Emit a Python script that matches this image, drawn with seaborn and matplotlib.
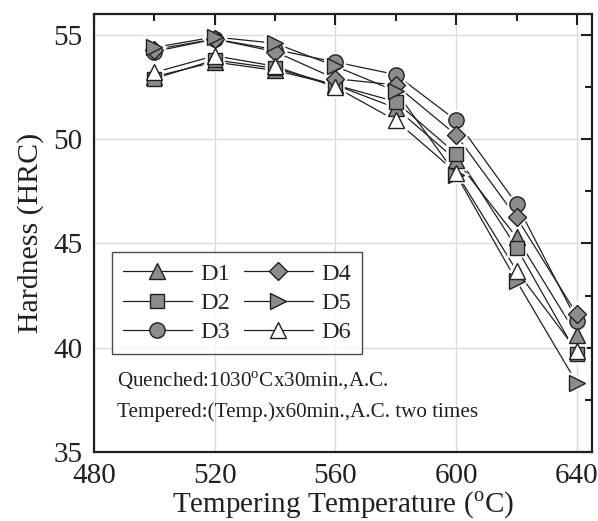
import matplotlib
matplotlib.use("Agg")
import matplotlib.pyplot as plt
from matplotlib.ticker import MultipleLocator
from matplotlib.lines import Line2D
import seaborn as sns
import pandas as pd

temps = [500, 520, 540, 560, 580, 600, 620, 640]
D1 = [53.0, 53.7, 53.3, 52.6, 51.5, 49.0, 45.3, 40.6]
D2 = [52.9, 53.8, 53.4, 52.6, 51.8, 49.3, 44.8, 39.7]
D3 = [54.2, 54.8, 54.3, 53.7, 53.1, 50.9, 46.9, 41.3]
D4 = [54.3, 54.8, 54.2, 52.9, 52.6, 50.2, 46.25, 41.6]
D5 = [54.4, 54.9, 54.6, 53.5, 52.3, 48.3, 43.2, 38.3]
D6 = [53.2, 54.0, 53.5, 52.5, 50.9, 48.4, 43.7, 39.85]
series_names = ["D1", "D2", "D3", "D4", "D5", "D6"]
series_values = [D1, D2, D3, D4, D5, D6]
markers = ["^", "s", "o", "D", ">", "^"]
fills = ["#8c8c8c", "#8c8c8c", "#8c8c8c", "#8c8c8c", "#8c8c8c", "white"]
sizes = [11.5, 10, 11, 9.5, 11.5, 11.5]

sns.set_style("white")
plt.rcParams["font.family"] = ["Liberation Serif", "DejaVu Serif"]
plt.rcParams["mathtext.fontset"] = "custom"
plt.rcParams["mathtext.rm"] = "Liberation Serif"

fig = plt.figure(figsize=(5.98, 5.21), dpi=100)
ax = fig.add_axes([0.157, 0.1324, 0.833, 0.8406])

edge = "#231f20"
frames = [pd.DataFrame({"T": temps, "H": vals}) for vals in series_values]

# layer 1: connecting lines
for df in frames:
    sns.lineplot(data=df, x="T", y="H", ax=ax, color=edge, lw=0.9, zorder=2)
# layer 2: white halos that open a small gap in the lines around each marker
for df, m, ms in zip(frames, markers, sizes):
    sns.lineplot(data=df, x="T", y="H", ax=ax, linestyle="", marker=m,
                 markersize=ms, markerfacecolor="white", markeredgecolor="white",
                 markeredgewidth=4.0, zorder=3)
# layer 3: the markers
for df, m, fc, ms in zip(frames, markers, fills, sizes):
    sns.lineplot(data=df, x="T", y="H", ax=ax, linestyle="", marker=m,
                 markersize=ms, markerfacecolor=fc, markeredgecolor=edge,
                 markeredgewidth=1.0, zorder=4)

ax.set_xlim(480, 645)
ax.set_ylim(35, 56)
ax.xaxis.set_major_locator(MultipleLocator(40))
ax.xaxis.set_minor_locator(MultipleLocator(20))
ax.yaxis.set_major_locator(MultipleLocator(5))
ax.yaxis.set_minor_locator(MultipleLocator(2.5))
ax.grid(True, which="major", color="#d9d9d9", lw=1.0)
ax.set_axisbelow(True)
ax.tick_params(which="both", direction="in", top=True, right=True,
               labelsize=21, colors=edge, width=1.5)
ax.tick_params(axis="y", which="both", pad=8)
ax.tick_params(axis="x", which="both", pad=8)
ax.tick_params(which="major", length=8)
ax.tick_params(which="minor", length=5)
for s in ax.spines.values():
    s.set_linewidth(1.6)
    s.set_color(edge)

ax.set_xlabel(r"Tempering Temperature ($^{\rm o}$C)", fontsize=21, color=edge, labelpad=0.5)
ax.set_ylabel("Hardness (HRC)", fontsize=21.5, color=edge, labelpad=7)

handles = [Line2D([], [], color=edge, lw=0.9, marker=m, markersize=ms,
                  markerfacecolor=fc, markeredgecolor=edge, markeredgewidth=1.0)
           for m, fc, ms in zip(markers, fills, sizes)]
leg = ax.legend(handles, series_names, ncol=2, loc="upper left",
                bbox_to_anchor=(0.036, 0.457), borderaxespad=0,
                fontsize=17.5, frameon=True, fancybox=False, edgecolor=edge,
                handlelength=2.85, columnspacing=0.55, handletextpad=0.35,
                borderpad=0.45, labelspacing=0.3)
leg.get_frame().set_linewidth(1.0)

ax.text(487.5, 38.4, r"Quenched:1030$^{\rm o}$Cx30min.,A.C.", fontsize=15.2,
        color=edge, va="center", ha="left")
ax.text(487.5, 36.9, "Tempered:(Temp.)x60min.,A.C. two times", fontsize=15.2,
        color=edge, va="center", ha="left")

fig.savefig("out.png", dpi=100)
